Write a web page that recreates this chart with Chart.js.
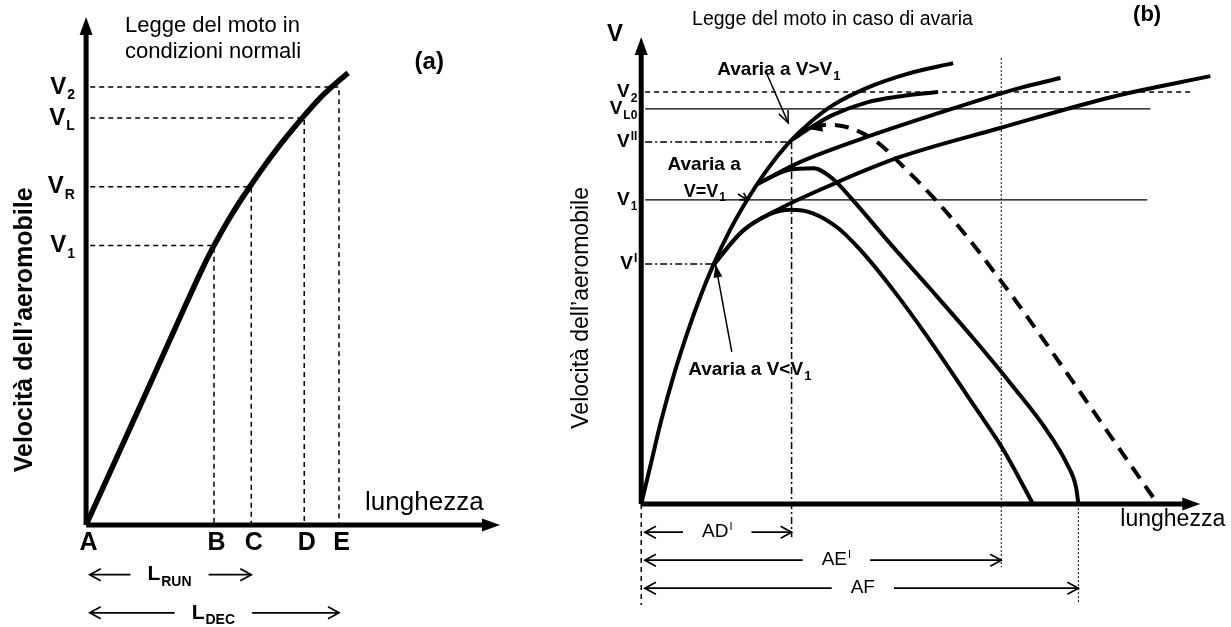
<!DOCTYPE html>
<html>
<head>
<meta charset="utf-8">
<script src="https://cdn.jsdelivr.net/npm/chart.js@4.4.1/dist/chart.umd.min.js"></script>
<style>
  html, body { margin: 0; padding: 0; background: #fff; }
  #wrap { width: 1231px; height: 627px; }
</style>
</head>
<body>
<div id="wrap"><canvas id="chart" width="1231" height="627"></canvas></div>
<script>
const FONT = '"Liberation Sans", Arial, Helvetica, sans-serif';

// ---------- (a) legge del moto in condizioni normali ----------
const lenA = [0, 15.5, 24.6, 28.0, 30.9, 34.8, 39.4, 45.7, 52.2, 56.0, 59.7, 63.3];
const velA = [0, 27.8, 44.3, 50.3, 55.0, 60.6, 66.4, 73.6, 80.1, 83.6, 86.5, 89.0];
const speedLabelsA = ['V_1', 'V_R', 'V_L', 'V_2'];
const speedValuesA = [55.0, 66.6, 80.1, 86.2];
const pointLabelsA = ['A', 'B', 'C', 'D', 'E'];
const pointValuesA = [0, 30.9, 39.9, 52.7, 61.1];
const runLabelsA = ['L_RUN', 'L_DEC'];
const runValuesA = [39.9, 61.1];

// ---------- (b) legge del moto in caso di avaria ----------
// corsa normale
const lenMain = [0, 1.5, 3.6, 6.0, 8.4, 10.6, 12.9, 15.9, 19.0, 22.6, 26.3, 30.2, 34.3, 40.4, 47.6, 55.8];
const velMain = [0, 7.5, 18.0, 28.3, 37.2, 44.5, 51.2, 58.7, 65.2, 71.7, 77.2, 81.7, 85.4, 89.1, 92.1, 94.4];
// avaria a V < V1
const lenLowGo = [12.9, 18.2, 23.6, 34.3, 46.3, 64.2, 84.4, 101.8];
const velLowGo = [51.2, 58.5, 62.5, 68.5, 74.3, 80.5, 87.2, 91.6];
const lenLowStop = [12.9, 18.2, 23.1, 26.7, 30.6, 35.2, 39.2, 45.1, 51.2, 59.7, 64.8, 70.1];
const velLowStop = [51.2, 58.5, 62.1, 63.0, 62.3, 59.1, 54.4, 45.8, 35.8, 20.8, 11.6, 0];
// avaria a V = V1
const lenMidGo = [20.9, 28.4, 40.4, 52.2, 67.8, 75.0];
const velMidGo = [68.6, 73.2, 78.6, 83.3, 89.1, 91.2];
const lenMidStop = [20.9, 26.3, 30.8, 34.3, 37.9, 44.5, 51.7, 59.4, 66.5, 72.6, 76.2, 77.8, 78.2];
const velMidStop = [68.6, 71.5, 71.9, 69.6, 65.0, 55.8, 46.1, 35.5, 25.2, 15.7, 8.5, 3.5, 0];
// avaria a V > V1
const lenHighGo = [27.0, 30.6, 34.3, 40.4, 46.5, 53.1];
const velHighGo = [78.0, 80.8, 83.3, 86.0, 87.3, 88.2];
const lenHighStop = [30.6, 33.3, 37.4, 42.2, 46.9, 52.2, 58.3, 64.2, 67.3, 91.9];
const velHighStop = [80.5, 81.2, 80.5, 77.5, 72.2, 65.7, 57.2, 48.0, 43.0, 0.9];

const speedLabelsB = ['V_2', 'V_L0', 'V^II', 'V_1', 'V^I'];
const speedValuesB = [88.2, 84.6, 77.5, 65.1, 51.4];
const speedReachB = [98.7, 91.1, 26.9, 90.5, 12.9];
const distLabelsB = ['AD^I', 'AE^I', 'AF'];
const distValuesB = [26.9, 64.4, 78.2];

// ---------- datasets ----------
const pts = (xs, ys) => xs.map((x, i) => ({ x: x, y: ys[i] }));
const line = (data, axes, o) => Object.assign({
  data: data, xAxisID: axes[0], yAxisID: axes[1], showLine: true, pointRadius: 0,
  borderColor: '#000', borderWidth: 4, fill: false, tension: 0, clip: false
}, o || {});
const AX = ['xa', 'ya'], BX = ['xb', 'yb'];
const smooth = { cubicInterpolationMode: 'monotone' };

const datasets = [];
datasets.push(line(pts(lenA, velA), AX, Object.assign({ borderWidth: 5.5 }, smooth)));
speedValuesA.forEach((v, i) => {
  const p = pointValuesA[i + 1];
  datasets.push(line([{ x: 1, y: v }, { x: p, y: v }, { x: p, y: 0 }], AX, { borderWidth: 1.5, borderDash: [5, 4] }));
});

[[lenMain, velMain], [lenLowGo, velLowGo], [lenLowStop, velLowStop],
 [lenMidGo, velMidGo], [lenMidStop, velMidStop], [lenHighGo, velHighGo]].forEach((c) => {
  datasets.push(line(pts(c[0], c[1]), BX, Object.assign({ borderWidth: 4 }, smooth)));
});
datasets.push(line(pts(lenHighStop, velHighStop), BX, Object.assign({ borderWidth: 4, borderDash: [14, 9] }, smooth)));

const levelStyle = [
  { borderWidth: 1.5, borderDash: [5, 4] },
  { borderWidth: 1.3 },
  { borderWidth: 1.5, borderDash: [7, 3, 2, 3] },
  { borderWidth: 1.3 },
  { borderWidth: 1.5, borderDash: [7, 3, 2, 3] },
];
speedValuesB.forEach((v, i) => {
  datasets.push(line([{ x: 0.7, y: v }, { x: speedReachB[i], y: v }], BX, levelStyle[i]));
});
datasets.push(line([{ x: distValuesB[0], y: speedValuesB[2] }, { x: distValuesB[0], y: -7.1 }], BX, { borderWidth: 1.5, borderDash: [7, 3, 2, 3] }));
datasets.push(line([{ x: distValuesB[1], y: 95.5 }, { x: distValuesB[1], y: -13.5 }], BX, { borderWidth: 1, borderDash: [2, 2] }));
datasets.push(line([{ x: distValuesB[2], y: 0 }, { x: distValuesB[2], y: -21.2 }], BX, { borderWidth: 1, borderDash: [2, 2] }));
datasets.push(line([{ x: 0, y: 0 }, { x: 0, y: -21.6 }], BX, { borderWidth: 1.5, borderDash: [5, 4] }));

// ---------- drawing helpers ----------
function parseLabel(s) {
  const m = s.match(/^([^_^]+)([_^]?)(.*)$/);
  return { base: m[1], mode: m[2], extra: m[3] };
}

function richText(ctx, s, x, y, o) {
  const p = parseLabel(s);
  const w = o.weight || 'normal';
  const ss = Math.round(o.size * (o.small || 0.62));
  ctx.font = w + ' ' + o.size + 'px ' + FONT;
  const wb = ctx.measureText(p.base).width;
  ctx.font = w + ' ' + ss + 'px ' + FONT;
  const we = p.extra ? ctx.measureText(p.extra).width + 1 : 0;
  const total = wb + we;
  const x0 = o.align === 'right' ? x - total : o.align === 'center' ? x - total / 2 : x;
  ctx.textBaseline = 'middle';
  ctx.textAlign = 'left';
  ctx.font = w + ' ' + o.size + 'px ' + FONT;
  ctx.fillText(p.base, x0, y);
  if (p.extra) {
    ctx.font = w + ' ' + ss + 'px ' + FONT;
    const dy = p.mode === '_' ? o.size * 0.34 : -o.size * 0.28;
    ctx.fillText(p.extra, x0 + wb + 1, y + dy);
  }
  return total;
}

function head(ctx, x1, y1, x2, y2, len, half, filled) {
  const a = Math.atan2(y2 - y1, x2 - x1);
  const bx = x2 - len * Math.cos(a), by = y2 - len * Math.sin(a);
  const nx = -Math.sin(a) * half, ny = Math.cos(a) * half;
  ctx.beginPath();
  ctx.moveTo(bx + nx, by + ny);
  ctx.lineTo(x2, y2);
  ctx.lineTo(bx - nx, by - ny);
  if (filled) { ctx.closePath(); ctx.fill(); } else { ctx.stroke(); }
}

function axisLine(ctx, from, to, width) {
  const a = Math.atan2(to[1] - from[1], to[0] - from[0]);
  const len = 18;
  ctx.setLineDash([]);
  ctx.lineWidth = width;
  ctx.beginPath();
  ctx.moveTo(from[0], from[1]);
  ctx.lineTo(to[0] - (len - 2) * Math.cos(a), to[1] - (len - 2) * Math.sin(a));
  ctx.stroke();
  head(ctx, from[0], from[1], to[0], to[1], len, 6.5, true);
}

function arrow(ctx, x1, y1, x2, y2, width, len, half, filled) {
  ctx.setLineDash([]);
  ctx.lineWidth = width;
  ctx.beginPath();
  ctx.moveTo(x1, y1);
  ctx.lineTo(x2, y2);
  ctx.stroke();
  head(ctx, x1, y1, x2, y2, len, half, filled);
}

function dimension(ctx, xs, xe, y, label, o) {
  const cx = xs + (xe - xs) * (o.at || 0.5);
  ctx.fillStyle = '#000';
  const tw = richText(ctx, label, cx, y, o);
  const gap = o.gap;
  arrow(ctx, cx - tw / 2 - gap, y, xs + 2, y, 1.7, 11, 6, false);
  arrow(ctx, cx + tw / 2 + gap, y, xe, y, 1.7, 11, 6, false);
}

const annotate = {
  id: 'annotate',
  afterDatasetsDraw(chart) {
    const ctx = chart.ctx;
    const s = chart.scales;
    const PA = (x, y) => [s.xa.getPixelForValue(x), s.ya.getPixelForValue(y)];
    const PB = (x, y) => [s.xb.getPixelForValue(x), s.yb.getPixelForValue(y)];
    ctx.save();
    ctx.strokeStyle = '#000';
    ctx.fillStyle = '#000';
    ctx.lineCap = 'butt';

    // ----- (a) -----
    axisLine(ctx, PA(0, 0), PA(0, 100), 5);
    axisLine(ctx, PA(0, 0), PA(100, 0), 5);
    speedLabelsA.forEach((l, i) => {
      const p = PA(-2.7, speedValuesA[i]);
      richText(ctx, l, p[0], p[1], { size: 24, weight: 'bold', align: 'right', small: 0.6 });
    });
    pointLabelsA.forEach((l, i) => {
      const p = PA(pointValuesA[i] + 0.6, -3.5);
      richText(ctx, l, p[0], p[1], { size: 25, weight: 'bold', align: 'center' });
    });
    const runY = [-9.8, -17.3];
    runLabelsA.forEach((l, i) => {
      const a = PA(0.4, runY[i]), b = PA(runValuesA[i], runY[i]);
      dimension(ctx, a[0], b[0], a[1], l, { size: 21, weight: 'bold', align: 'center', small: 0.66, gap: 17 });
    });
    ctx.fillStyle = '#000';
    let p = PA(9.4, 98.2);
    richText(ctx, 'Legge del moto in', p[0], p[1], { size: 22 });
    p = PA(9.4, 93.1);
    richText(ctx, 'condizioni normali', p[0], p[1], { size: 22 });
    p = PA(82.9, 91.1);
    richText(ctx, '(a)', p[0], p[1], { size: 24, weight: 'bold', align: 'center' });
    p = PA(67.4, 4.3);
    richText(ctx, 'lunghezza', p[0], p[1], { size: 26 });
    p = PA(-14.7, 38.4);
    ctx.save();
    ctx.translate(p[0], p[1]);
    ctx.rotate(-Math.PI / 2);
    richText(ctx, 'Velocità dell\u2019aeromobile', 0, 0, { size: 25, weight: 'bold', align: 'center' });
    ctx.restore();

    // ----- (b) -----
    axisLine(ctx, PB(0, 0), PB(0, 100), 5);
    axisLine(ctx, PB(0, 0), PB(100, 0), 5);
    speedLabelsB.forEach((l, i) => {
      const q = PB(-0.7, speedValuesB[i]);
      richText(ctx, l, q[0], q[1], { size: 19, weight: 'bold', align: 'right', small: 0.62 });
    });
    const distY = [-6.0, -12.0, -18.0];
    const distAt = [0.5, 0.54, 0.505];
    distLabelsB.forEach((l, i) => {
      const a = PB(0.3, distY[i]), b = PB(distValuesB[i], distY[i]);
      dimension(ctx, a[0], b[0], a[1], l, { size: 19, align: 'center', small: 0.6, gap: 19, at: distAt[i] });
    });
    ctx.fillStyle = '#000';
    // arrowhead at the start of the dashed braking curve
    const h0 = PB(lenHighStop[0], velHighStop[0]), h1 = PB(lenHighStop[1], velHighStop[1]);
    head(ctx, h1[0], h1[1], h0[0] - 3, h0[1] + 1, 13, 6, true);

    p = PB(-4.7, 100.5);
    richText(ctx, 'V', p[0], p[1], { size: 24, weight: 'bold', align: 'center' });
    p = PB(9.1, 103.6);
    richText(ctx, 'Legge del moto in caso di avaria', p[0], p[1], { size: 19.5 });
    p = PB(90.5, 104.7);
    richText(ctx, '(b)', p[0], p[1], { size: 22, weight: 'bold', align: 'center' });
    p = PB(85.7, -3.4);
    richText(ctx, 'lunghezza', p[0], p[1], { size: 23 });

    p = PB(13.6, 92.9);
    richText(ctx, 'Avaria a V>V_1', p[0], p[1], { size: 19, weight: 'bold', small: 0.66 });
    p = PB(4.7, 72.6);
    richText(ctx, 'Avaria a', p[0], p[1], { size: 19, weight: 'bold' });
    p = PB(7.6, 66.9);
    richText(ctx, 'V=V_1', p[0], p[1], { size: 18, weight: 'bold', small: 0.66 });
    p = PB(8.4, 28.7);
    richText(ctx, 'Avaria a V<V_1', p[0], p[1], { size: 19, weight: 'bold', small: 0.66 });

    let a = PB(22.5, 92.0), b = PB(26.3, 81.6);
    arrow(ctx, a[0], a[1], b[0], b[1], 1.5, 12, 5, false);
    a = PB(17.3, 66.4); b = PB(19.0, 65.1);
    arrow(ctx, a[0], a[1], b[0], b[1], 1.8, 7, 4, false);
    a = PB(16.2, 32.6); b = PB(13.3, 51.3);
    arrow(ctx, a[0], a[1], b[0], b[1], 1.5, 13, 4.5, true);

    p = PB(-10.6, 42.0);
    ctx.save();
    ctx.translate(p[0], p[1]);
    ctx.rotate(-Math.PI / 2);
    richText(ctx, 'Velocità dell\u2019aeromobile', 0, 0, { size: 23, align: 'center' });
    ctx.restore();

    ctx.restore();
  }
};

const hidden = (min, max) => ({ type: 'linear', display: false, min: min, max: max });

new Chart(document.getElementById('chart'), {
  type: 'scatter',
  data: { datasets: datasets },
  options: {
    responsive: false,
    animation: false,
    events: [],
    layout: { padding: 0 },
    scales: {
      xa: Object.assign(hidden(-20.8, 276.6), { axis: 'x' }),
      ya: Object.assign(hidden(-20.1, 103.35), { axis: 'y' }),
      xb: Object.assign(hidden(-114.7, 105.5), { axis: 'x' }),
      yb: Object.assign(hidden(-26.3, 107.9), { axis: 'y' }),
    },
    plugins: { legend: { display: false }, tooltip: { enabled: false } },
  },
  plugins: [annotate],
});
</script>
</body>
</html>
